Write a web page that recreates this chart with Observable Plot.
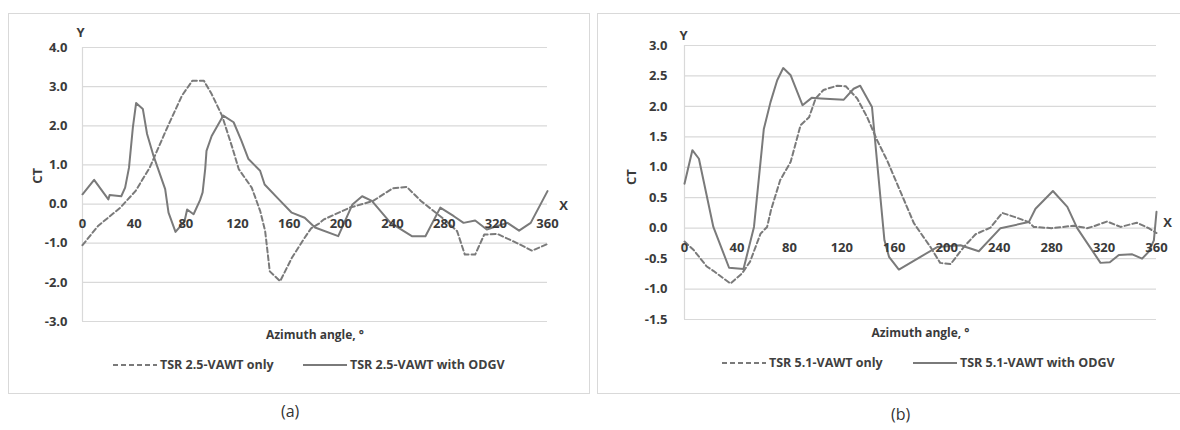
<!DOCTYPE html>
<html>
<head>
<meta charset="utf-8">
<script src="https://cdn.jsdelivr.net/npm/d3@7"></script>
<script src="https://cdn.jsdelivr.net/npm/@observablehq/plot@0.6"></script>
<style>
  html, body { margin: 0; padding: 0; background: #fff; width: 1180px; height: 430px; overflow: hidden; }
  body { position: relative; font-family: "Open Sans", "Liberation Sans", sans-serif; }
  .panel { position: absolute; border: 1px solid #d9d9d9; box-sizing: border-box; background: #fff; overflow: hidden; }
  .panel svg { position: absolute; left: 0; top: 0; }
  .leg { position: absolute; display: flex; align-items: center; font-size: 12.5px; font-weight: 700; color: #404040; white-space: nowrap; }
  .leg svg { position: static; margin-right: 3px; }
  .cap { position: absolute; font-size: 16px; color: #333; font-family: "Open Sans", sans-serif; }
</style>
</head>
<body>
<div id="pa" class="panel" style="left:8px; top:13px; width:582px; height:381px;"></div>
<div id="pb" class="panel" style="left:597px; top:13px; width:600px; height:381px;"></div>
<div class="cap" style="left:281px; top:400px;">(a)</div>
<div class="cap" style="left:891px; top:403px;">(b)</div>
<script>
// ---------- shared ticks ----------
const xTicks = [0, 40, 80, 120, 160, 200, 240, 280, 320, 360];
const yTicksA = [-3, -2, -1, 0, 1, 2, 3, 4];
const yTicksB = [-1.5, -1, -0.5, 0, 0.5, 1, 1.5, 2, 2.5, 3];

// ---------- data: panel (a) TSR 2.5 ----------
const angA_only = [0, 12, 29, 41, 52, 65, 77, 85, 94, 100, 108, 116, 121, 131, 137.6, 141.4, 145, 153, 162, 172, 177, 183, 187, 207, 225, 240, 251, 262, 280, 290, 296, 304, 311, 321, 336, 348, 360];
const ctA_only  = [-1.05, -0.56, -0.1, 0.33, 0.93, 1.91, 2.77, 3.15, 3.15, 2.81, 2.26, 1.44, 0.89, 0.42, -0.18, -0.69, -1.72, -1.97, -1.38, -0.86, -0.62, -0.5, -0.39, -0.09, 0.08, 0.40, 0.44, 0.08, -0.39, -0.69, -1.29, -1.29, -0.78, -0.76, -0.99, -1.19, -1.02];

const angA_odgv = [0, 9, 20, 21, 30, 33, 36, 39, 41.5, 46.7, 50, 55, 64, 66.6, 72, 79, 81, 86, 91, 93, 95, 96, 100, 109, 117, 123, 128.5, 137.5, 141, 152, 162, 172, 180, 198, 209, 216.5, 224, 238.5, 255, 265.5, 277, 287.5, 295, 304, 313, 321, 329, 338, 347, 360];
const ctA_odgv  = [0.25, 0.62, 0.12, 0.23, 0.2, 0.42, 0.93, 1.96, 2.58, 2.43, 1.79, 1.23, 0.38, -0.22, -0.71, -0.44, -0.14, -0.26, 0.1, 0.3, 0.9, 1.36, 1.74, 2.26, 2.09, 1.62, 1.15, 0.85, 0.5, 0.12, -0.22, -0.35, -0.6, -0.82, -0.01, 0.2, 0.08, -0.48, -0.82, -0.82, -0.09, -0.31, -0.48, -0.42, -0.65, -0.56, -0.48, -0.68, -0.48, 0.33];

// ---------- data: panel (b) TSR 5.1 ----------
const angB_only = [0, 7, 17, 22, 35, 44, 50, 58, 63, 66, 73, 81, 88.5, 95, 100, 106, 116.5, 123, 131.7, 139.4, 147, 154.6, 164.7, 175, 187.6, 195, 203, 213, 222, 233.4, 242.3, 251, 262.6, 266.4, 280, 297, 307, 312, 322.4, 332.6, 345, 354, 360];
const ctB_only  = [-0.22, -0.36, -0.63, -0.7, -0.91, -0.74, -0.55, -0.09, 0.02, 0.3, 0.79, 1.09, 1.69, 1.82, 2.13, 2.27, 2.34, 2.33, 2.13, 1.82, 1.44, 1.11, 0.6, 0.08, -0.31, -0.57, -0.59, -0.31, -0.1, 0.01, 0.25, 0.19, 0.10, 0.02, 0.0, 0.04, 0.0, 0.03, 0.11, 0.02, 0.09, 0.0, -0.08];

const angB_odgv = [0, 6, 11, 22, 34, 45, 53, 60.5, 65.6, 70.7, 75.3, 81, 90, 97, 104, 121.5, 129, 134, 143, 147, 152.5, 156, 163.5, 180, 192.7, 210.5, 224.5, 241, 262.6, 267.7, 281, 292, 299.5, 317.3, 324.4, 331.3, 341.5, 349, 354, 358, 360];
const ctB_odgv  = [0.73, 1.28, 1.14, 0.02, -0.65, -0.67, 0.02, 1.63, 2.07, 2.43, 2.63, 2.51, 2.02, 2.14, 2.13, 2.11, 2.29, 2.34, 1.99, 1.06, -0.2, -0.47, -0.68, -0.47, -0.31, -0.28, -0.38, 0, 0.10, 0.32, 0.61, 0.35, 0, -0.57, -0.56, -0.44, -0.43, -0.5, -0.39, -0.2, 0.27];

const legA = ["TSR 2.5-VAWT only", "TSR 2.5-VAWT with ODGV"];
const legB = ["TSR 5.1-VAWT only", "TSR 5.1-VAWT with ODGV"];

const LINE = "#7a7a7a", GRID = "#d9d9d9", TXT = "#3a3a3a";
const FONT = "'Open Sans', 'Liberation Sans', sans-serif";

function zip(xs, ys) { return xs.map((x, i) => ({x, y: ys[i]})); }

function makePanel(cfg) {
  return Plot.plot({
    width: cfg.width, height: cfg.height,
    marginLeft: cfg.ml, marginRight: cfg.mr, marginTop: cfg.mt, marginBottom: cfg.mb,
    x: {domain: [0, 360], axis: null},
    y: {domain: [cfg.yTicks[0], cfg.yTicks[cfg.yTicks.length - 1]], axis: null},
    style: {fontFamily: FONT, background: "transparent", overflow: "visible"},
    marks: [
      Plot.ruleY(cfg.yTicks, {stroke: GRID, strokeWidth: 1.2}),
      Plot.ruleX([0], {stroke: GRID, strokeWidth: 1.2}),
      Plot.axisY(cfg.yTicks, {tickSize: 0, tickPadding: cfg.tp, tickFormat: d => d.toFixed(1), fontWeight: "bold", fill: TXT, fontSize: 13, label: null}),
      Plot.line(zip(cfg.angOnly, cfg.ctOnly), {x: "x", y: "y", stroke: LINE, strokeWidth: 2, strokeDasharray: "5,3"}),
      Plot.line(zip(cfg.angOdgv, cfg.ctOdgv), {x: "x", y: "y", stroke: LINE, strokeWidth: 2}),
      Plot.text(xTicks, {x: d => d, y: 0, dy: 20, text: d => String(d), fontWeight: "bold", fill: TXT, fontSize: 13}),
      Plot.text(["Y"], {x: 0, y: cfg.yTicks[cfg.yTicks.length - 1], dx: cfg.ydx, dy: cfg.ydy, text: d => d, fontWeight: "bold", fill: TXT, fontSize: 13}),
      Plot.text(["X"], {x: 360, y: 0, dx: cfg.xdx, dy: cfg.xdy, text: d => d, fontWeight: "bold", fill: TXT, fontSize: 13}),
      Plot.text(["Azimuth angle, °"], {x: 180, y: cfg.yTicks[0], dy: 14, text: d => d, fontWeight: "bold", fill: TXT, fontSize: 12}),
      Plot.text(["CT"], {x: 0, y: cfg.ctY, dx: cfg.ctdx, rotate: -90, text: d => d, fontWeight: "bold", fill: TXT, fontSize: 13})
    ]
  });
}

function dashSwatch(dashed) {
  return `<svg width="44" height="6"><line x1="0" y1="3" x2="44" y2="3" stroke="${LINE}" stroke-width="2" ${dashed ? 'stroke-dasharray="5,3"' : ''}/></svg>`;
}

// Panel (a): content origin at (9,14)
const pa = document.getElementById("pa");
pa.appendChild(makePanel({
  width: 580, height: 330, ml: 73, mr: 42, mt: 33, mb: 23, tp: 15,
  yTicks: yTicksA, angOnly: angA_only, ctOnly: ctA_only, angOdgv: angA_odgv, ctOdgv: ctA_odgv,
  ydx: -2, ydy: -15, xdx: 16, xdy: 2, ctY: 0.72, ctdx: -45
}));
pa.insertAdjacentHTML("beforeend",
  `<div class="leg" style="left:104px; top:342px;">${dashSwatch(true)}${legA[0]}</div>
   <div class="leg" style="left:294px; top:342px;">${dashSwatch(false)}${legA[1]}</div>`);

// Panel (b): content origin at (598,14)
const pb = document.getElementById("pb");
pb.appendChild(makePanel({
  width: 598, height: 330, ml: 86, mr: 40, mt: 31, mb: 25, tp: 17,
  yTicks: yTicksB, angOnly: angB_only, ctOnly: ctB_only, angOdgv: angB_odgv, ctOdgv: ctB_odgv,
  ydx: -1, ydy: -10, xdx: 11, xdy: -5, ctY: 0.84, ctdx: -53
}));
pb.insertAdjacentHTML("beforeend",
  `<div class="leg" style="left:124px; top:340px;">${dashSwatch(true)}${legB[0]}</div>
   <div class="leg" style="left:315px; top:340px;">${dashSwatch(false)}${legB[1]}</div>`);
</script>
</body>
</html>
